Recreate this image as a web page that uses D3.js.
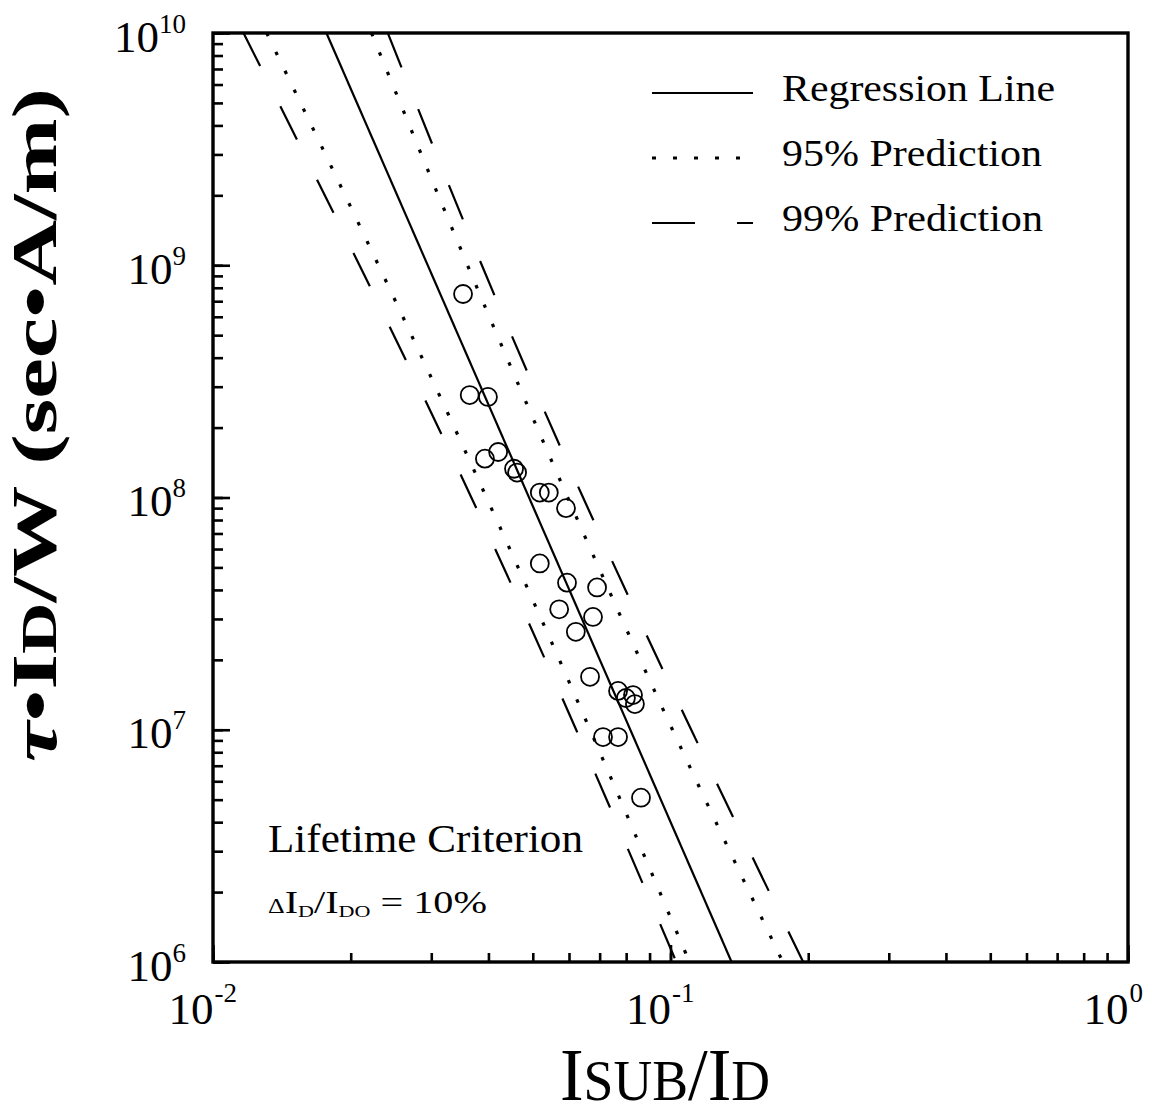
<!DOCTYPE html>
<html>
<head>
<meta charset="utf-8">
<script src="https://cdn.jsdelivr.net/npm/d3@7"></script>
<style>
  body { margin: 0; background: #fff; }
  svg { display: block; }
  text { font-family: "Liberation Serif", "Times New Roman", serif; fill: #000; }
</style>
</head>
<body>
<div id="chart"></div>
<script>
/* Hot-carrier lifetime against substrate current ratio, log-log */

//Measured devices: Isub/Id and tau*Id/W
var isubRatio = [0.0352, 0.0364, 0.0399, 0.0393, 0.0420, 0.0455, 0.0462, 0.0518,
                 0.0542, 0.0591, 0.0518, 0.0594, 0.0691, 0.0571, 0.0677, 0.0621,
                 0.0667, 0.0768, 0.0799, 0.0828, 0.0836, 0.0712, 0.0768, 0.0862];
var lifetime = [7.52e8, 2.76e8, 2.71e8, 1.47e8, 1.57e8, 1.33e8, 1.28e8, 1.05e8,
                1.05e8, 9.0e7, 5.2e7, 4.3e7, 4.1e7, 3.3e7, 3.06e7, 2.64e7,
                1.69e7, 1.47e7, 1.37e7, 1.41e7, 1.29e7, 9.3e6, 9.3e6, 5.1e6];

//Regression line end points
var regressionX = [0.0177, 0.136];
var regressionY = [1e10, 1e6];

//Prediction bands, read at every decade of lifetime
var bandY = [1e10, 1e9, 1e8, 1e7, 1e6];
var pred95Lower = [0.0131, 0.0230, 0.0396, 0.0667, 0.110];
var pred95Upper = [0.0222, 0.0360, 0.0596, 0.101, 0.176];
var pred99Lower = [0.01166, 0.0209, 0.0367, 0.0622, 0.103];
var pred99Upper = [0.0241, 0.0387, 0.0644, 0.111, 0.195];

//Ticks and labels
var xMajorTicks = [1e-2, 1e-1, 1e0];
var yMajorTicks = [1e6, 1e7, 1e8, 1e9, 1e10];
var legendLabels = ["Regression Line", "95% Prediction", "99% Prediction"];

var width = 1170, height = 1118;
var plot = { left: 213, right: 1128, top: 33, bottom: 962 };
var serif = "'Liberation Serif', 'Times New Roman', serif";

var svg = d3.select("#chart")
    .append("svg")
        .attr("width", width)
        .attr("height", height);

var x = d3.scaleLog().domain([1e-2, 1e0]).range([plot.left, plot.right]);
var y = d3.scaleLog().domain([1e6, 1e10]).range([plot.bottom, plot.top]);

function exponent(d) {
    return Math.round(Math.log10(d));
}

//Clip for the fitted lines
svg.append("clipPath")
        .attr("id", "plot-clip")
    .append("rect")
        .attr("x", plot.left)
        .attr("y", plot.top)
        .attr("width", plot.right - plot.left)
        .attr("height", plot.bottom - plot.top);

var lines = svg.append("g").attr("clip-path", "url(#plot-clip)");

var line = d3.line()
    .x(function(d) { return x(d[0]); })
    .y(function(d) { return y(d[1]); })
    .curve(d3.curveNatural);

var series = [
    { xs: regressionX, ys: regressionY, dash: null, w: 2.2 },
    { xs: pred95Lower, ys: bandY, dash: "3.5,17.5", w: 3.2 },
    { xs: pred95Upper, ys: bandY, dash: "3.5,17.5", w: 3.2 },
    { xs: pred99Lower, ys: bandY, dash: "37,45", w: 2.2 },
    { xs: pred99Upper, ys: bandY, dash: "37,45", w: 2.2 }
];

series.forEach(function(s) {
    lines.append("path")
        .datum(d3.zip(s.xs, s.ys))
        .attr("d", line)
        .attr("fill", "none")
        .attr("stroke", "#000")
        .attr("stroke-width", s.w)
        .attr("stroke-dasharray", s.dash);
});

//Data points as open circles
svg.append("g")
    .selectAll("circle")
    .data(d3.zip(isubRatio, lifetime))
    .join("circle")
        .attr("cx", function(d) { return x(d[0]); })
        .attr("cy", function(d) { return y(d[1]); })
        .attr("r", 9)
        .attr("fill", "none")
        .attr("stroke", "#000")
        .attr("stroke-width", 1.8);

//Axes: minor and major ticks point inward
var xMinor = svg.append("g")
    .attr("transform", "translate(0," + plot.bottom + ")")
    .call(d3.axisBottom(x).tickValues(x.ticks()).tickSize(-9).tickFormat(""));

var xMajor = svg.append("g")
    .attr("transform", "translate(0," + plot.bottom + ")")
    .call(d3.axisBottom(x).tickValues(xMajorTicks).tickSize(-17).tickFormat(""));

var yMinor = svg.append("g")
    .attr("transform", "translate(" + plot.left + ",0)")
    .call(d3.axisLeft(y).tickValues(y.ticks()).tickSize(-10).tickFormat(""));

var yMajor = svg.append("g")
    .attr("transform", "translate(" + plot.left + ",0)")
    .call(d3.axisLeft(y).tickValues(yMajorTicks).tickSize(-17).tickFormat(""));

[xMinor, xMajor, yMinor, yMajor].forEach(function(a) {
    a.attr("font-family", serif).attr("fill", "#000");
    a.select(".domain").remove();
    a.selectAll(".tick line").attr("stroke", "#000").attr("stroke-width", 2.6);
});

//Tick labels as powers of ten
xMajor.selectAll(".tick").each(function(d) {
    d3.select(this).select("text")
        .attr("y", 62)
        .attr("dy", null)
        .attr("text-anchor", "end")
        .attr("fill", "#000")
        .style("font-size", "45px")
        .text("10");
    d3.select(this).append("text")
        .attr("x", 1)
        .attr("y", 40)
        .attr("text-anchor", "start")
        .attr("fill", "#000")
        .style("font-size", "27px")
        .text(exponent(d));
});

yMajor.selectAll(".tick").each(function(d) {
    var t = d3.select(this).select("text")
        .attr("x", -27)
        .attr("dy", null)
        .attr("y", 18)
        .attr("text-anchor", "end")
        .attr("fill", "#000")
        .style("font-size", "45px")
        .text(null);
    t.append("tspan").text("10");
    t.append("tspan")
        .attr("dy", -19)
        .style("font-size", "27px")
        .text(exponent(d));
});

//Frame
svg.append("rect")
    .attr("x", plot.left)
    .attr("y", plot.top)
    .attr("width", plot.right - plot.left)
    .attr("height", plot.bottom - plot.top)
    .attr("fill", "none")
    .attr("stroke", "#000")
    .attr("stroke-width", 3.4);

//Legend
var legend = svg.append("g").attr("transform", "translate(652,93)");
var legendStyles = [
    { dash: null, w: 2.2, len: 101 },
    { dash: "4,17", w: 3, len: 88 },
    { dash: "43,42", w: 2.2, len: 101 }
];
var legendWidths = [273, 260, 261];

legendLabels.forEach(function(label, i) {
    var row = legend.append("g").attr("transform", "translate(0," + (i * 65) + ")");
    row.append("line")
        .attr("x1", 0)
        .attr("x2", legendStyles[i].len)
        .attr("stroke", "#000")
        .attr("stroke-width", legendStyles[i].w)
        .attr("stroke-dasharray", legendStyles[i].dash);
    row.append("text")
        .attr("x", 130)
        .attr("y", 8)
        .attr("textLength", legendWidths[i])
        .attr("lengthAdjust", "spacingAndGlyphs")
        .style("font-size", "37px")
        .text(label);
});

//Lifetime criterion note
svg.append("text")
    .attr("x", 268)
    .attr("y", 852)
    .attr("textLength", 315)
    .attr("lengthAdjust", "spacingAndGlyphs")
    .style("font-size", "39px")
    .text("Lifetime Criterion");

var crit = svg.append("text")
    .attr("x", 268)
    .attr("y", 913)
    .attr("textLength", 219)
    .attr("lengthAdjust", "spacingAndGlyphs")
    .style("font-size", "31px");
crit.append("tspan").style("font-size", "20px").text("\u0394");
crit.append("tspan").text("I");
crit.append("tspan").attr("dy", 4).style("font-size", "17px").text("D");
crit.append("tspan").attr("dy", -4).text("/I");
crit.append("tspan").attr("dy", 4).style("font-size", "17px").text("DO");
crit.append("tspan").attr("dy", -4).text(" = 10%");

//Axis titles
var xTitle = svg.append("text")
    .attr("x", 665)
    .attr("y", 1100)
    .attr("text-anchor", "middle")
    .attr("textLength", 210)
    .attr("lengthAdjust", "spacingAndGlyphs")
    .style("font-size", "74px");
xTitle.append("tspan").text("I");
xTitle.append("tspan").style("font-size", "56px").text("SUB");
xTitle.append("tspan").text("/I");
xTitle.append("tspan").style("font-size", "56px").text("D");

var yTitle = svg.append("text")
    .attr("transform", "translate(56,425) rotate(-90)")
    .attr("text-anchor", "middle")
    .attr("textLength", 674)
    .attr("lengthAdjust", "spacingAndGlyphs")
    .style("font-size", "64px")
    .style("font-weight", "bold");
yTitle.append("tspan").style("font-style", "italic").text("\u03C4");
yTitle.append("tspan").text("\u2022I");
yTitle.append("tspan").style("font-size", "50px").text("D");
yTitle.append("tspan").text("/W (sec\u2022A/m)");
</script>
</body>
</html>
